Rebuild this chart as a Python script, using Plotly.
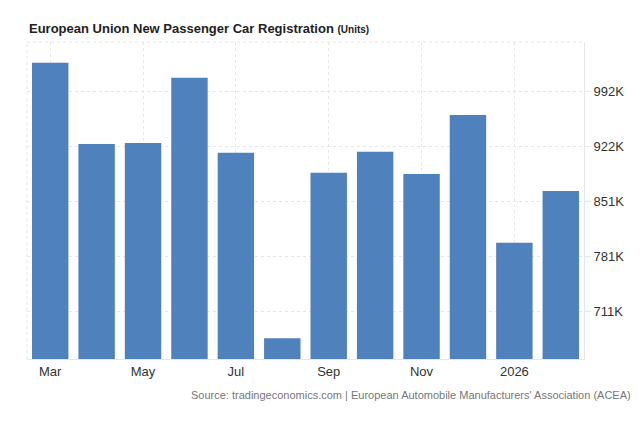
import plotly.graph_objects as go

months = ["Mar", "Apr", "May", "Jun", "Jul", "Aug", "Sep", "Oct", "Nov", "Dec", "Jan", "Feb"]
registrations = [1028900, 924800, 926100, 1009700, 913700, 676100,
                 888100, 914900, 886400, 961900, 798500, 864600]
x_tick_labels = ["Mar", "May", "Jul", "Sep", "Nov", "2026"]
x_tick_idx = [0, 2, 4, 6, 8, 10]
y_tick_vals = [711000, 781250, 851500, 921750, 992000]
y_tick_text = ["711K", "781K", "851K", "922K", "992K"]

idx = list(range(len(months)))

fig = go.Figure()
fig.add_trace(go.Bar(
    x=idx, y=registrations,
    marker=dict(color="#4f81bd", line=dict(width=0)),
    width=0.785,
    hovertext=months,
))

# page body has an 8px default margin, so the figure is offset by 8px
W, H = 636, 432
ml, mr, mt, mb = 19, 60, 34, 81
ph = H - mt - mb
pw = W - ml - mr

fig.update_layout(
    width=W, height=H,
    margin=dict(l=ml, r=mr, t=mt, b=mb),
    paper_bgcolor="white", plot_bgcolor="white",
    showlegend=False,
    font=dict(family="Liberation Sans, Arial, sans-serif", size=13, color="#333"),
    xaxis=dict(
        range=[-0.5, 11.5],
        tickmode="array", tickvals=x_tick_idx, ticktext=x_tick_labels,
        showgrid=True, gridcolor="#e6e6e6", griddash="dot", gridwidth=1,
        showline=True, linecolor="#e6e6e6", linewidth=1,
        ticks="", tickfont=dict(size=13, color="#333"),
        zeroline=False, fixedrange=True,
    ),
    yaxis=dict(
        side="right",
        range=[649600, 1055400],
        tickmode="array", tickvals=y_tick_vals, ticktext=y_tick_text,
        showgrid=True, gridcolor="#e6e6e6", griddash="dot", gridwidth=1,
        showline=True, linecolor="#e6e6e6", linewidth=1,
        ticks="outside", ticklen=6, tickcolor="#e6e6e6",
        tickfont=dict(size=13, color="#333"),
        zeroline=False, fixedrange=True,
    ),
)

# dotted top and left border
fig.add_shape(type="line", xref="paper", yref="paper", x0=0, x1=1, y0=1, y1=1,
              line=dict(color="#e6e6e6", width=1, dash="dot"))
fig.add_shape(type="line", xref="paper", yref="paper", x0=0, x1=0, y0=0, y1=1,
              line=dict(color="#e6e6e6", width=1, dash="dot"))

fig.add_annotation(
    xref="paper", yref="paper", x=0, y=1 + 14 / ph, xanchor="left", yanchor="middle",
    text="<b>European Union New Passenger Car Registration</b> <span style='font-size:10px'><b>(Units)</b></span>",
    showarrow=False, font=dict(size=13, color="#222"),
)
fig.add_annotation(
    xref="paper", yref="paper", x=(625 - ml) / pw, y=-36 / ph,
    xanchor="right", yanchor="middle",
    text="Source: tradingeconomics.com | European Automobile Manufacturers' Association (ACEA)",
    showarrow=False, font=dict(size=11, color="#777"),
)

fig.write_html("out.html")
